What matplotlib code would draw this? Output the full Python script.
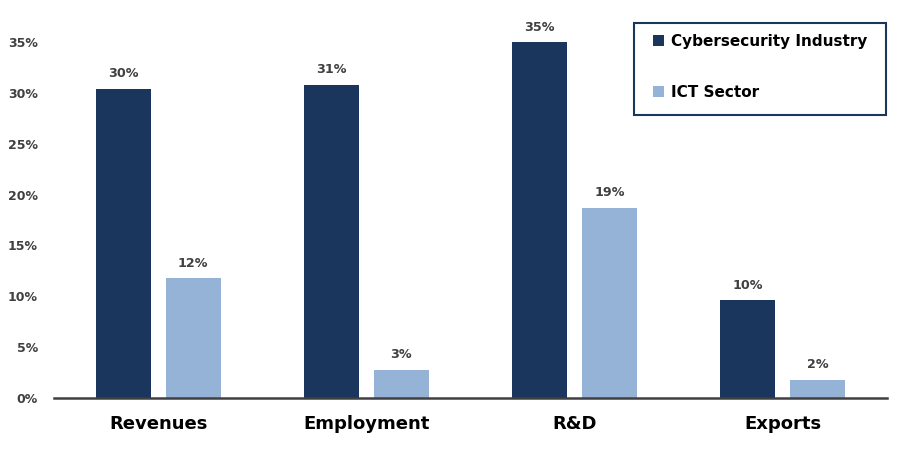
import matplotlib.pyplot as plt
from matplotlib.patches import Rectangle
import numpy as np

categories = ["Revenues", "Employment", "R&D", "Exports"]
cyber_values = [30.4, 30.8, 35.0, 9.6]
ict_values = [11.8, 2.8, 18.7, 1.8]
cyber_labels = ["30%", "31%", "35%", "10%"]
ict_labels = ["12%", "3%", "19%", "2%"]
y_ticks = [0, 5, 10, 15, 20, 25, 30, 35]

dark = "#1b365d"
light = "#95b3d7"
grey = "#404040"

fig = plt.figure(figsize=(9, 4.5), dpi=100)
ax = fig.add_axes([0.06, 0.1156, 0.9256, 0.7911])

x = np.arange(len(categories))
w = 0.264
off = 0.168
b1 = ax.bar(x - off, cyber_values, w, color=dark, label="Cybersecurity Industry")
b2 = ax.bar(x + off, ict_values, w, color=light, label="ICT Sector")

for bars, labels in [(b1, cyber_labels), (b2, ict_labels)]:
    for bar, lab in zip(bars, labels):
        ax.annotate(lab, (bar.get_x() + bar.get_width() / 2, bar.get_height()),
                    xytext=(0, 6), textcoords="offset points", ha="center", va="bottom",
                    fontsize=9.2, fontweight="bold", color=grey)

ax.set_xlim(-0.5, 3.5)
ax.set_ylim(0, 35)
ax.set_yticks(y_ticks)
ax.set_yticklabels([f"{t}%" for t in y_ticks], fontsize=9, fontweight="bold", color=grey)
ax.set_xticks(x)
ax.set_xticklabels(categories, fontsize=13, fontweight="bold", color="black")
ax.tick_params(axis="both", length=0)
ax.tick_params(axis="x", pad=12)
ax.tick_params(axis="y", pad=11.5)

for s in ["top", "right", "left"]:
    ax.spines[s].set_visible(False)
ax.spines["bottom"].set_color(grey)
ax.spines["bottom"].set_linewidth(1.8)

# legend box drawn by hand so it can be wider than the entries
fig.patches.append(Rectangle((634 / 900, 1 - 115 / 450), 252 / 900, 92 / 450,
                             transform=fig.transFigure, fill=False,
                             edgecolor=dark, linewidth=1.5))
leg = fig.legend(loc="upper left", bbox_to_anchor=(653 / 900, 1 - 34 / 450), frameon=False,
                 prop={"weight": "bold", "size": 11}, labelspacing=2.35,
                 handlelength=0.7, handleheight=0.7, handletextpad=0.5, borderpad=0,
                 borderaxespad=0)

fig.savefig("out.png", dpi=100)
